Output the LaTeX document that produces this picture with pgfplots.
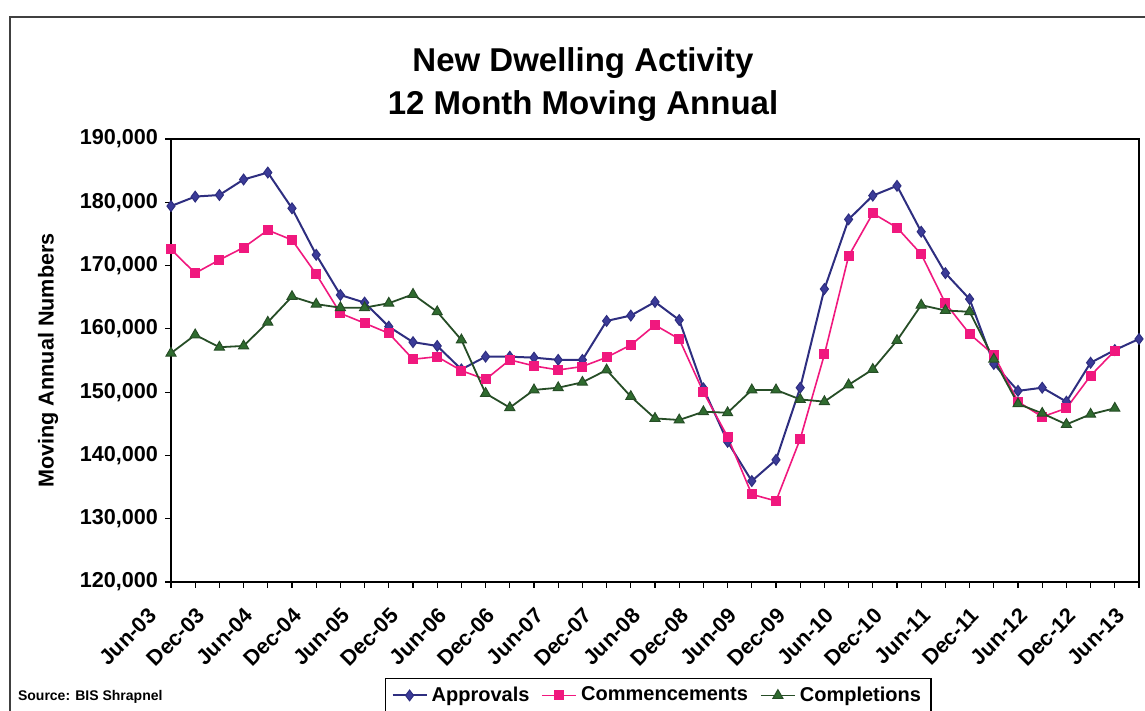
\documentclass[border=0pt]{standalone}
\usepackage{fontspec}
\setmainfont{Liberation Sans}
\usepackage{pgfplots}
\usepackage{pgfplotstable}
\pgfplotsset{compat=1.18}

\definecolor{apprline}{HTML}{2E2E80}
\definecolor{apprfill}{HTML}{3B3B98}
\definecolor{commline}{HTML}{F0187E}
\definecolor{compline}{HTML}{264D26}
\definecolor{compfill}{HTML}{2F6B2F}

% quarterly, 0 = Jun-03 ... 40 = Jun-13
\pgfplotstableread{
q appr comm comp
0 179400 172550 156150
1 180900 168800 159050
2 181150 170900 157100
3 183600 172850 157300
4 184700 175600 161050
5 179050 174050 165100
6 171700 168650 163900
7 165350 162450 163350
8 164150 160900 163350
9 160350 159300 164050
10 157900 155200 165450
11 157300 155600 162700
12 153600 153400 158250
13 155600 152000 149800
14 155600 155100 147550
15 155450 154150 150350
16 155100 153500 150700
17 155100 154050 151550
18 161250 155500 153500
19 162100 157450 149300
20 164250 160600 145850
21 161400 158400 145600
22 150600 150000 146900
23 142150 142950 146750
24 135950 133850 150350
25 139300 132800 150350
26 150700 142600 148850
27 166300 155950 148500
28 177300 171500 151150
29 181050 178250 153600
30 182600 176000 158150
31 175350 171800 163750
32 168800 164050 162900
33 164700 159200 162700
34 154450 155900 155200
35 150200 148500 148150
36 150700 146100 146650
37 148500 147450 144900
38 154650 152600 146500
39 156650 156550 147450
40 158400 nan nan
}\dwelling

\begin{document}
\begin{tikzpicture}
% outer chart frame (cropped at right and bottom)
\draw[line width=0.7pt, black!75] (5pt,-5pt) -- (5pt,347pt) -- (580pt,347pt);

\node[align=center, font=\bfseries\fontsize{16.5}{21.5}\selectfont] at (291.5pt,313pt)
  {New Dwelling Activity\\12 Month Moving Annual};

\node[anchor=west, font=\bfseries\fontsize{7}{8}\selectfont] at (5.5pt,7pt) {Source: BIS Shrapnel};

\begin{axis}[
    at={(85.5pt,64.5pt)}, anchor=south west,
    width=484pt, height=221.5pt, scale only axis,
    xmin=0, xmax=40,
    ymin=120000, ymax=190000,
    scaled y ticks=false,
    axis line style={line width=0.7pt},
    tick align=outside,
    xtick pos=bottom, ytick pos=left,
    major tick length=3pt, minor tick length=3pt,
    tick style={black, line width=0.6pt},
    xtick={0,2,...,40},
    minor xtick={1,3,...,39},
    xticklabels={Jun-03,Dec-03,Jun-04,Dec-04,Jun-05,Dec-05,Jun-06,Dec-06,Jun-07,Dec-07,
                  Jun-08,Dec-08,Jun-09,Dec-09,Jun-10,Dec-10,Jun-11,Dec-11,Jun-12,Dec-12,Jun-13},
    xticklabel style={font=\bfseries\fontsize{10.8}{12}\selectfont, xshift=-12pt, yshift=-4.4pt, rotate=45, anchor=north east},
    ytick={120000,130000,...,190000},
    yticklabels={{120,000},{130,000},{140,000},{150,000},{160,000},{170,000},{180,000},{190,000}},
    yticklabel style={font=\bfseries\fontsize{10.8}{12}\selectfont},
    ylabel={Moving Annual Numbers},
    ylabel style={font=\bfseries\fontsize{10.8}{12}\selectfont, at={(axis description cs:-0.127,0.5)}, anchor=center},
    legend columns=3,
    legend style={at={(rel axis cs:0.221,-0.217)}, anchor=north west,
        draw=black, line width=0.6pt, font=\bfseries\fontsize{10}{12}\selectfont,
        inner xsep=3pt, inner ysep=2pt,
        /tikz/every even column/.append style={column sep=4pt}},
    legend image code/.code={
        \draw[mark repeat=2,mark phase=2,#1] plot coordinates {(0cm,0cm) (0.3cm,0cm) (0.6cm,0cm)};},
]
\addplot[apprline, line width=1pt, mark=diamond*, mark size=2.7pt,
    mark options={fill=apprfill, draw=apprline, line width=0.5pt}]
    table[x=q, y=appr] {\dwelling};
\addlegendentry{Approvals}
\addplot[commline, line width=0.8pt, mark=square*, mark size=2.1pt,
    mark options={fill=commline, draw=commline}]
    table[x=q, y=comm] {\dwelling};
\addlegendentry{Commencements}
\addplot[compline, line width=0.9pt, mark=triangle*, mark size=2.9pt,
    mark options={fill=compfill, draw=compline, line width=0.5pt}]
    table[x=q, y=comp] {\dwelling};
\addlegendentry{Completions}
\end{axis}

\pgfresetboundingbox
\useasboundingbox (0,0) rectangle (572.5pt,355.5pt);
\end{tikzpicture}
\end{document}
